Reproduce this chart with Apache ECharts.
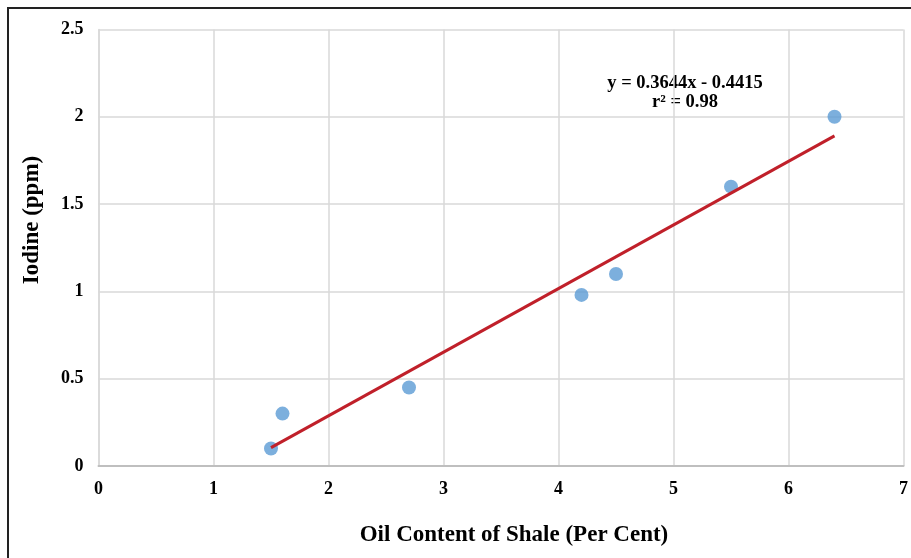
<!DOCTYPE html>
<html>
<head>
<meta charset="utf-8">
<script src="https://cdn.jsdelivr.net/npm/echarts@6/dist/echarts.min.js"></script>
<style>
html,body{margin:0;padding:0;background:#fff;}
#chart{width:911px;height:558px;}
</style>
</head>
<body>
<div id="chart"></div>
<script>
var oilContent = [1.5, 1.6, 2.7, 4.2, 4.5, 5.5, 6.4];
var iodine = [0.1, 0.3, 0.45, 0.98, 1.1, 1.6, 2.0];
var trendX = [1.5, 6.4];
var trendY = [0.105, 1.891];
var equationLines = ['y = 0.3644x - 0.4415', 'r² = 0.98'];
var xTitle = 'Oil Content of Shale (Per Cent)';
var yTitle = 'Iodine (ppm)';

var font = '"Liberation Serif", "Times New Roman", serif';
var chart = echarts.init(document.getElementById('chart'), null, {renderer: 'canvas'});
chart.setOption({
  animation: false,
  backgroundColor: '#fff',
  grid: {left: 98.5, right: 7.5, top: 29.5, bottom: 92, containLabel: false},
  xAxis: {
    type: 'value', min: 0, max: 7, interval: 1,
    axisLine: {show: true, lineStyle: {color: '#bfbfbf', width: 2}},
    axisTick: {show: false},
    splitLine: {show: true, lineStyle: {color: '#d9d9d9', width: 1.5}},
    axisLabel: {color: '#000', fontFamily: font, fontWeight: 'bold', fontSize: 18, margin: 14}
  },
  yAxis: {
    type: 'value', min: 0, max: 2.5, interval: 0.5,
    axisLine: {show: true, lineStyle: {color: '#d9d9d9', width: 1.5}},
    axisTick: {show: false},
    splitLine: {show: true, lineStyle: {color: '#d9d9d9', width: 1.5}},
    axisLabel: {color: '#000', fontFamily: font, fontWeight: 'bold', fontSize: 18, margin: 15}
  },
  series: [
    {
      type: 'scatter',
      data: oilContent.map(function(x, i){ return [x, iodine[i]]; }),
      symbolSize: 14,
      itemStyle: {color: '#5b9bd5'},
      z: 2
    },
    {
      type: 'line',
      data: trendX.map(function(x, i){ return [x, trendY[i]]; }),
      showSymbol: false,
      lineStyle: {color: '#c0202a', width: 3},
      z: 3
    }
  ],
  graphic: [
    {type: 'rect', shape: {x: 8, y: 8, width: 1000, height: 1000}, style: {fill: 'none', stroke: '#222', lineWidth: 2}, silent: true},
    {type: 'text', x: 685, y: 83, style: {text: equationLines[0], font: 'bold 18.5px ' + font, fill: '#000', align: 'center', verticalAlign: 'middle'}},
    {type: 'text', x: 685, y: 102, style: {text: equationLines[1], font: 'bold 18.5px ' + font, fill: '#000', align: 'center', verticalAlign: 'middle'}},
    {type: 'text', x: 514, y: 535, style: {text: xTitle, font: 'bold 23px ' + font, fill: '#000', align: 'center', verticalAlign: 'middle'}},
    {type: 'text', x: 32, y: 220, rotation: Math.PI / 2, style: {text: yTitle, font: 'bold 23px ' + font, fill: '#000', align: 'center', verticalAlign: 'middle'}}
  ]
});
</script>
</body>
</html>
